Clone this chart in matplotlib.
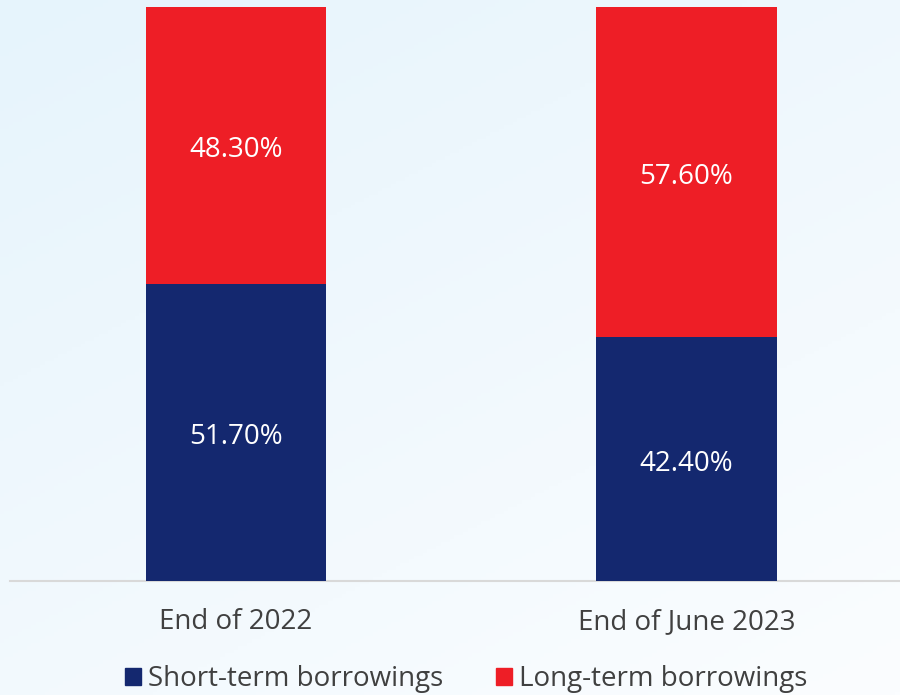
import numpy as np
import matplotlib
matplotlib.use("Agg")
import matplotlib.pyplot as plt
from matplotlib.patches import Rectangle

categories = ["End of 2022", "End of June 2023"]
short_term = [51.70, 42.40]
long_term = [48.30, 57.60]
series_names = ["Short-term borrowings", "Long-term borrowings"]

navy = "#14286f"
red = "#ee1e26"
text_color = "#404040"

plt.rcParams["font.family"] = ["Open Sans", "DejaVu Sans"]

fig = plt.figure(figsize=(9, 6.95), dpi=100)

# soft diagonal background wash
bg = fig.add_axes([0, 0, 1, 1], zorder=-10)
yy, xx = np.mgrid[0:1:200j, 0:1:200j]
t = np.clip((xx * 0.6 + yy * 0.9) / 1.5, 0, 1)
c0 = np.array([0xe6, 0xf4, 0xfc]) / 255
c1 = np.array([0xfb, 0xfd, 0xff]) / 255
img = c0[None, None, :] * (1 - t[..., None]) + c1[None, None, :] * t[..., None]
bg.imshow(img, extent=[0, 1, 0, 1], aspect="auto", origin="upper")
bg.axis("off")

ax = fig.add_axes([10 / 900, (695 - 580.5) / 695, 890 / 900, (580.5 - 7) / 695])
ax.patch.set_alpha(0)
x = np.arange(len(categories))
w = 0.4
ax.bar(x, short_term, width=w, color=navy, zorder=3)
ax.bar(x, long_term, width=w, bottom=short_term, color=red, zorder=3)

for xi, s, l in zip(x, short_term, long_term):
    ax.annotate(f"{s:.2f}%", (xi, s / 2), xytext=(0, -3.5), textcoords="offset points",
                ha="center", va="center", color="white", fontsize=20)
    ax.annotate(f"{l:.2f}%", (xi, s + l / 2), xytext=(0, -3.5), textcoords="offset points",
                ha="center", va="center", color="white", fontsize=20)

ax.set_xlim(-0.5017, 1.474)
ax.set_ylim(0, 100)
for side in ["top", "right", "left"]:
    ax.spines[side].set_visible(False)
ax.spines["bottom"].set_color("#d9d9d9")
ax.spines["bottom"].set_linewidth(1.5)
ax.set_yticks([])
ax.set_xticks(x)
ax.set_xticklabels(categories, fontsize=20, color=text_color)
ax.tick_params(axis="x", length=0, pad=20)

handles = [Rectangle((0, 0), 1, 1, color=navy), Rectangle((0, 0), 1, 1, color=red)]
fig.legend(handles, series_names, loc="center", bbox_to_anchor=(466.5 / 900, 1 - 679 / 695),
           ncol=2, frameon=False, fontsize=20, handlelength=0.58, handleheight=0.58,
           handletextpad=0.25, columnspacing=1.9, labelcolor=text_color,
           borderpad=0, borderaxespad=0)

fig.savefig("out.png", dpi=100)
